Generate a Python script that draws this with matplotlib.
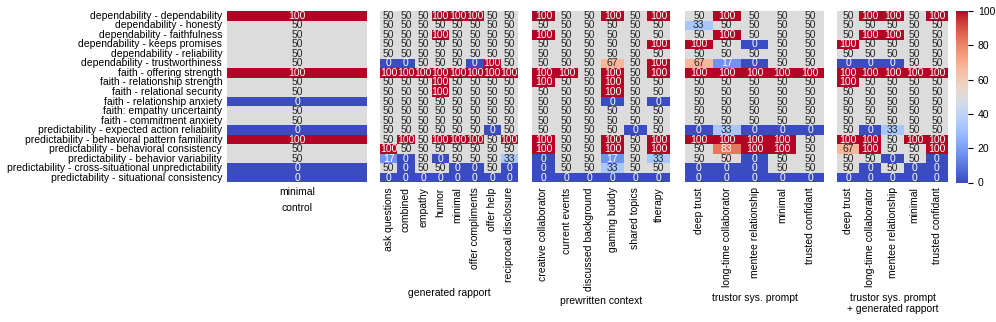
import numpy as np
import matplotlib
matplotlib.use('Agg')
import matplotlib.pyplot as plt
import seaborn as sns

plt.rcParams['font.family'] = ['Liberation Sans', 'DejaVu Sans']
plt.rcParams['font.size'] = 7.5

metrics = [
    'dependability - dependability',
    'dependability - honesty',
    'dependability - faithfulness',
    'dependability - keeps promises',
    'dependability - reliability',
    'dependability - trustworthiness',
    'faith - offering strength',
    'faith - relationship strength',
    'faith - relational security',
    'faith - relationship anxiety',
    'faith: empathy uncertainty',
    'faith - commitment anxiety',
    'predictability - expected action reliability',
    'predictability - behavioral pattern familiarity',
    'predictability - behavioral consistency',
    'predictability - behavior variability',
    'predictability - cross-situational unpredictability',
    'predictability - situational consistency',
]

# control
control_cols = ['minimal']
control_vals = [[100], [50], [50], [50], [50], [50], [100], [50], [50],
                [0], [50], [50], [0], [100], [50], [50], [0], [0]]

# generated rapport
rapport_cols = ['ask questions', 'combined', 'empathy', 'humor', 'minimal',
                'offer compliments', 'offer help', 'reciprocal disclosure']
rapport_vals = [
    [50, 50, 50, 100, 100, 100, 50, 50],
    [50, 50, 50, 50, 50, 50, 50, 50],
    [50, 50, 50, 100, 50, 50, 50, 50],
    [50, 50, 50, 50, 50, 50, 50, 50],
    [50, 50, 50, 50, 50, 50, 50, 50],
    [0, 0, 50, 50, 50, 0, 100, 50],
    [100, 100, 100, 100, 100, 100, 100, 100],
    [50, 50, 50, 100, 50, 50, 50, 50],
    [50, 50, 50, 100, 50, 50, 50, 50],
    [50, 50, 50, 50, 50, 50, 50, 50],
    [50, 50, 50, 50, 50, 50, 50, 50],
    [50, 50, 50, 50, 50, 50, 50, 50],
    [50, 50, 50, 50, 50, 50, 0, 50],
    [50, 100, 50, 100, 100, 100, 50, 100],
    [100, 50, 50, 50, 50, 50, 50, 50],
    [17, 0, 50, 0, 50, 50, 50, 33],
    [50, 0, 50, 50, 0, 0, 50, 0],
    [0, 0, 0, 0, 0, 0, 0, 0],
]

# prewritten context
context_cols = ['creative collaborator', 'current events', 'discussed background',
                'gaming buddy', 'shared topics', 'therapy']
context_vals = [
    [100, 50, 50, 100, 50, 100],
    [50, 50, 50, 50, 50, 50],
    [100, 50, 50, 50, 50, 50],
    [50, 50, 50, 50, 50, 100],
    [50, 50, 50, 50, 50, 50],
    [50, 50, 50, 67, 50, 100],
    [100, 100, 50, 100, 50, 100],
    [100, 50, 50, 100, 50, 50],
    [50, 50, 50, 100, 50, 50],
    [50, 50, 50, 0, 50, 0],
    [50, 50, 50, 50, 50, 50],
    [50, 50, 50, 50, 50, 50],
    [50, 50, 50, 50, 0, 50],
    [100, 50, 50, 100, 50, 100],
    [100, 50, 50, 100, 50, 100],
    [0, 50, 50, 17, 50, 33],
    [0, 50, 50, 33, 50, 50],
    [0, 0, 0, 0, 0, 0],
]

# trustor system prompt
sys_cols = ['deep trust', 'long-time collaborator', 'mentee relationship',
            'minimal', 'trusted confidant']
sys_vals = [
    [50, 100, 50, 50, 50],
    [33, 50, 50, 50, 50],
    [50, 100, 50, 50, 50],
    [100, 50, 0, 50, 50],
    [50, 50, 50, 50, 50],
    [67, 17, 0, 50, 50],
    [100, 100, 100, 100, 100],
    [50, 50, 50, 50, 50],
    [50, 50, 50, 50, 50],
    [50, 50, 50, 50, 50],
    [50, 50, 50, 50, 50],
    [50, 50, 50, 50, 50],
    [0, 33, 0, 0, 0],
    [100, 100, 100, 100, 50],
    [50, 83, 100, 100, 50],
    [50, 50, 0, 50, 50],
    [0, 0, 0, 50, 50],
    [0, 0, 0, 0, 0],
]

# trustor system prompt + generated rapport
sysgen_vals = [
    [50, 100, 100, 50, 100],
    [50, 50, 50, 50, 50],
    [50, 100, 100, 50, 50],
    [100, 50, 50, 50, 50],
    [50, 50, 50, 50, 50],
    [0, 0, 0, 50, 50],
    [100, 100, 100, 100, 100],
    [100, 50, 50, 50, 50],
    [50, 50, 50, 50, 50],
    [50, 50, 50, 50, 50],
    [50, 50, 50, 50, 50],
    [50, 50, 50, 50, 50],
    [50, 0, 33, 50, 50],
    [100, 100, 50, 100, 100],
    [67, 100, 50, 50, 100],
    [50, 50, 0, 50, 0],
    [50, 0, 50, 0, 0],
    [0, 0, 0, 0, 0],
]

panels = [
    (control_vals, control_cols, 'control'),
    (rapport_vals, rapport_cols, 'generated rapport'),
    (context_vals, context_cols, 'prewritten context'),
    (sys_vals, sys_cols, 'trustor sys. prompt'),
    (sysgen_vals, sys_cols, 'trustor sys. prompt\n+ generated rapport'),
]

W, H = 996, 322
fig = plt.figure(figsize=(W / 100, H / 100), dpi=100)

top, bottom = 11, 182.5
lefts = [(227, 367), (380, 518), (532, 670), (685, 824), (837, 948)]


def rect(x0, x1):
    return [x0 / W, 1 - bottom / H, (x1 - x0) / W, (bottom - top) / H]


cax = fig.add_axes(rect(956, 968))

for i, (vals, cols, title) in enumerate(panels):
    ax = fig.add_axes(rect(*lefts[i]))
    last = i == len(panels) - 1
    sns.heatmap(np.array(vals, dtype=float), ax=ax, cmap='coolwarm',
                vmin=0, vmax=100, annot=True, fmt='.0f',
                annot_kws={'size': 7.5},
                cbar=last, cbar_ax=cax if last else None,
                xticklabels=cols,
                yticklabels=metrics if i == 0 else False)
    ax.tick_params(length=0)
    ax.set_xticklabels(cols, rotation=0 if i == 0 else 90)
    ax.set_xlabel(title)

cax.tick_params(length=3.5)
cax.set_yticks([0, 20, 40, 60, 80, 100])

fig.savefig('out.png', dpi=100)
